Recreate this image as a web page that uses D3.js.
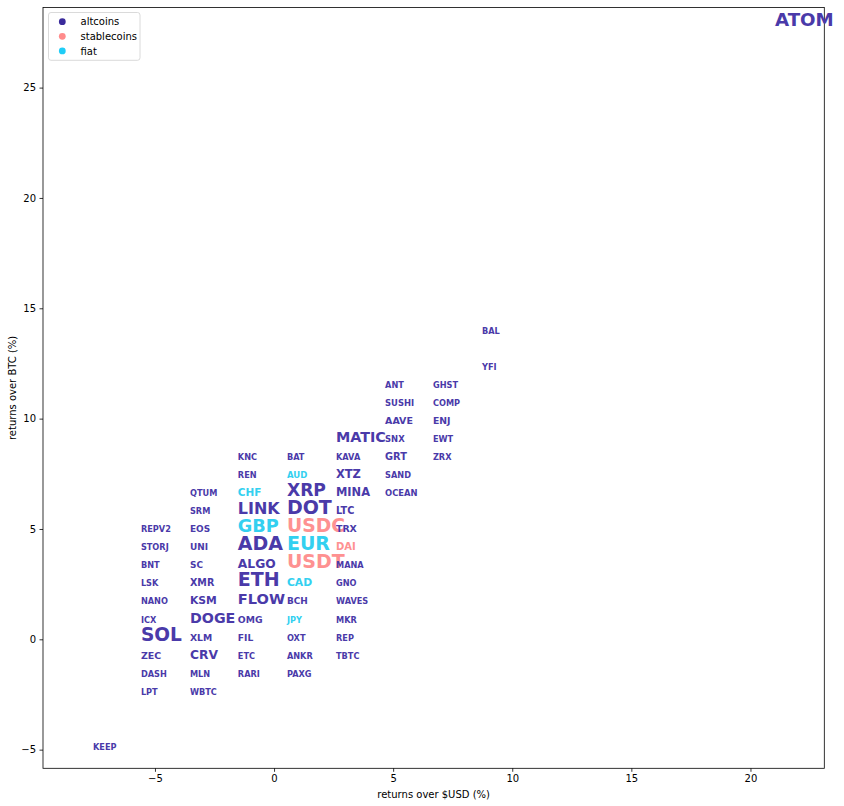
<!DOCTYPE html>
<html>
<head>
<meta charset="utf-8">
<script src="https://cdn.jsdelivr.net/npm/d3@7"></script>
<style>
  html, body { margin: 0; padding: 0; background: #fff; }
  svg { display: block; }
  text { font-family: "DejaVu Sans", sans-serif; }
</style>
</head>
<body>
<svg id="chart" width="844" height="806"></svg>
<script>
// ---- data ----
const labels = [
  "KEEP",
  "REPV2","STORJ","BNT","LSK","NANO","ICX","SOL","ZEC","DASH","LPT",
  "QTUM","SRM","EOS","UNI","SC","XMR","KSM","DOGE","XLM","CRV","MLN","WBTC",
  "KNC","REN","CHF","LINK","GBP","ADA","ALGO","ETH","FLOW","OMG","FIL","ETC","RARI",
  "BAT","AUD","XRP","DOT","USDC","EUR","USDT","CAD","BCH","JPY","OXT","ANKR","PAXG",
  "MATIC","KAVA","XTZ","MINA","LTC","TRX","DAI","MANA","GNO","WAVES","MKR","REP","TBTC",
  "ANT","SUSHI","AAVE","SNX","GRT","SAND","OCEAN",
  "GHST","COMP","ENJ","EWT","ZRX",
  "BAL","YFI",
  "ATOM"
];
const groups = [
  "altcoins",
  "altcoins","altcoins","altcoins","altcoins","altcoins","altcoins","altcoins","altcoins","altcoins","altcoins",
  "altcoins","altcoins","altcoins","altcoins","altcoins","altcoins","altcoins","altcoins","altcoins","altcoins","altcoins","altcoins",
  "altcoins","altcoins","fiat","altcoins","fiat","altcoins","altcoins","altcoins","altcoins","altcoins","altcoins","altcoins","altcoins",
  "altcoins","fiat","altcoins","altcoins","stablecoins","fiat","stablecoins","fiat","altcoins","fiat","altcoins","altcoins","altcoins",
  "altcoins","altcoins","altcoins","altcoins","altcoins","altcoins","stablecoins","altcoins","altcoins","altcoins","altcoins","altcoins","altcoins",
  "altcoins","altcoins","altcoins","altcoins","altcoins","altcoins","altcoins",
  "altcoins","altcoins","altcoins","altcoins","altcoins",
  "altcoins","altcoins",
  "altcoins"
];
// returns over $USD (%)
const usdReturns = [
  -7.60,
  -5.59,-5.59,-5.59,-5.59,-5.59,-5.59,-5.59,-5.59,-5.59,-5.59,
  -3.53,-3.53,-3.53,-3.53,-3.53,-3.53,-3.53,-3.53,-3.53,-3.53,-3.53,-3.53,
  -1.52,-1.52,-1.52,-1.52,-1.52,-1.52,-1.52,-1.52,-1.52,-1.52,-1.52,-1.52,-1.52,
  0.54,0.54,0.54,0.54,0.54,0.54,0.54,0.54,0.54,0.54,0.54,0.54,0.54,
  2.60,2.60,2.60,2.60,2.60,2.60,2.60,2.60,2.60,2.60,2.60,2.60,2.60,
  4.66,4.66,4.66,4.66,4.66,4.66,4.66,
  6.67,6.67,6.67,6.67,6.67,
  8.73,8.73,
  21.03
];
// returns over BTC (%)
const btcReturns = [
  -5.02,
  4.85,4.04,3.22,2.40,1.58,0.76,-0.06,-0.88,-1.70,-2.52,
  6.49,5.67,4.85,4.04,3.22,2.40,1.58,0.76,-0.06,-0.88,-1.70,-2.52,
  8.12,7.31,6.49,5.67,4.85,4.04,3.22,2.40,1.58,0.76,-0.06,-0.88,-1.70,
  8.12,7.31,6.49,5.67,4.85,4.04,3.22,2.40,1.58,0.76,-0.06,-0.88,-1.70,
  8.94,8.12,7.31,6.49,5.67,4.85,4.04,3.22,2.40,1.58,0.76,-0.06,-0.88,
  11.40,10.58,9.76,8.94,8.12,7.31,6.49,
  11.40,10.58,9.76,8.94,8.12,
  13.85,12.22,
  27.81
];
// relative weight (0 = smallest label, 100 = largest)
const weights = [
  0,
  0,0,0,0,0,0,96,12,0,0,
  0,0,7,7,7,13,24,56,10,38,0,0,
  0,0,21,72,88,100,38,100,59,10,9,0,0,
  0,3,83,100,98,100,100,24,7,0,0,0,0,
  57,0,30,30,14,11,17,0,0,0,0,0,0,
  0,2,12,2,15,0,2,
  0,0,10,0,0,
  0,0,
  93
];
const legendGroups = ["altcoins","stablecoins","fiat"];
const xTicks = [-5,0,5,10,15,20];
const yTicks = [-5,0,5,10,15,20,25];

// ---- layout ----
const svg = d3.select("#chart");
const margin = {left: 43, right: 844 - 824.3, top: 7.5, bottom: 806 - 768.3};
const W = 844, H = 806;
const x = d3.scaleLinear().domain([-9.70, 23.10]).range([margin.left, W - margin.right]);
const y = d3.scaleLinear().domain([-5.845, 28.63]).range([H - margin.bottom, margin.top]);
const fontSize = d3.scaleLinear().domain([0, 100]).range([8.2, 19]);
const textColor = d3.scaleOrdinal().domain(legendGroups).range(["#4a3aa9", "#fe9191", "#33d0f0"]);
const dotColor = d3.scaleOrdinal().domain(legendGroups).range(["#3a2b9b", "#ff8b8b", "#1fcdf7"]);
const fmt = d => (d < 0 ? "\u2212" + Math.abs(d) : String(d));

// axes
const xAxis = svg.append("g")
  .attr("transform", `translate(0,${H - margin.bottom})`)
  .call(d3.axisBottom(x).tickValues(xTicks).tickFormat(fmt).tickSize(3.5).tickPadding(3.5));
const yAxis = svg.append("g")
  .attr("transform", `translate(${margin.left},0)`)
  .call(d3.axisLeft(y).tickValues(yTicks).tickFormat(fmt).tickSize(3.5).tickPadding(3.5));
[xAxis, yAxis].forEach(g => {
  g.select(".domain").remove();
  g.selectAll(".tick line").attr("stroke", "#000").attr("stroke-width", 0.8);
  g.selectAll(".tick text").attr("fill", "#000").style("font-size", "10px").style("font-family", "DejaVu Sans");
});

// frame
svg.append("rect")
  .attr("x", x.range()[0]).attr("y", y.range()[1])
  .attr("width", x.range()[1] - x.range()[0])
  .attr("height", y.range()[0] - y.range()[1])
  .attr("fill", "none").attr("stroke", "#000").attr("stroke-width", 0.8);

// axis labels
svg.append("text")
  .attr("x", (x.range()[0] + x.range()[1]) / 2).attr("y", 797.5)
  .attr("text-anchor", "middle").style("font-size", "10px").attr("fill", "#000")
  .text("returns over $USD (%)");
svg.append("text")
  .attr("transform", `translate(15.5,${(y.range()[0] + y.range()[1]) / 2}) rotate(-90)`)
  .attr("text-anchor", "middle").style("font-size", "10px").attr("fill", "#000")
  .text("returns over BTC (%)");

// labels
const data = labels.map((l, i) => ({label: l, group: groups[i], xv: usdReturns[i], yv: btcReturns[i], w: weights[i]}));
svg.append("g").selectAll("text").data(data).join("text")
  .attr("x", d => x(d.xv))
  .attr("y", d => y(d.yv))
  .attr("fill", d => textColor(d.group))
  .style("font-size", d => fontSize(d.w) + "px")
  .style("font-weight", "bold")
  .text(d => d.label);

// legend
const lg = svg.append("g");
lg.append("rect")
  .attr("x", 48.5).attr("y", 12.5).attr("width", 91.5).attr("height", 47.8)
  .attr("rx", 2.5).attr("fill", "#fff").attr("fill-opacity", 0.8)
  .attr("stroke", "#d0d0d0").attr("stroke-width", 0.8);
legendGroups.forEach((g, i) => {
  const cy = 21.7 + i * 14.6;
  lg.append("circle").attr("cx", 62.3).attr("cy", cy).attr("r", 3.4).attr("fill", dotColor(g));
  lg.append("text").attr("x", 80.5).attr("y", cy + 3.6)
    .style("font-size", "10px").attr("fill", "#000").text(g);
});
</script>
</body>
</html>
